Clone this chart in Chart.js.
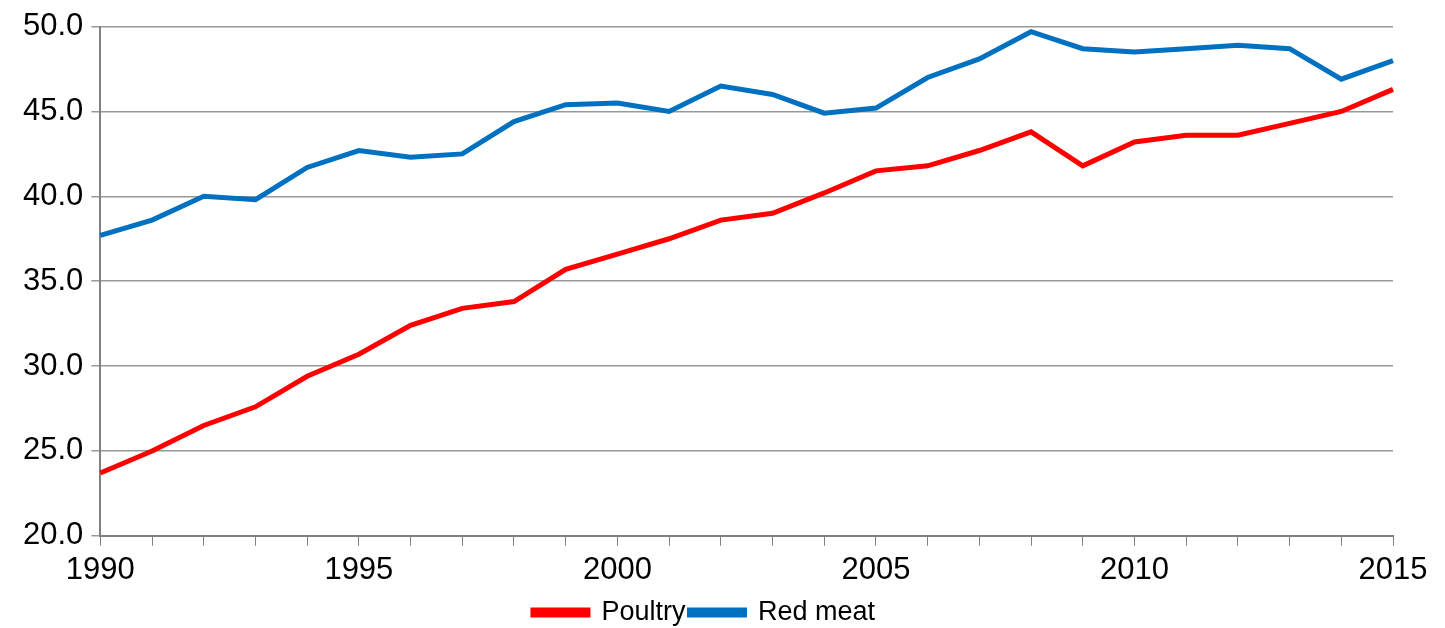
<!DOCTYPE html>
<html>
<head>
<meta charset="utf-8">
<script src="https://cdn.jsdelivr.net/npm/chart.js@4"></script>
<style>
  html, body { margin: 0; padding: 0; background: #fff; }
  #wrap { width: 1445px; height: 628px; }
</style>
</head>
<body>
<div id="wrap"><canvas id="chart" width="1445" height="628"></canvas></div>
<script>
const years = [];
for (let y = 1990; y <= 2015; y++) years.push(String(y));

const poultry = [23.7, 25.0, 26.5, 27.6, 29.4, 30.7, 32.4, 33.4, 33.8, 35.7, 36.6, 37.5, 38.6,
                 39.0, 40.2, 41.5, 41.8, 42.7, 43.8, 41.8, 43.2, 43.6, 43.6, 44.3, 45.0, 46.3];
const redMeat = [37.7, 38.6, 40.0, 39.8, 41.7, 42.7, 42.3, 42.5, 44.4, 45.4, 45.5, 45.0, 46.5,
                 46.0, 44.9, 45.2, 47.0, 48.1, 49.7, 48.7, 48.5, 48.7, 48.9, 48.7, 46.9, 48.0];

const font = { family: '"Liberation Sans", Arial, sans-serif', size: 31 };

new Chart(document.getElementById('chart').getContext('2d'), {
    type: 'line',
    data: {
        labels: years,
        datasets: [
            { label: 'Poultry', data: poultry, borderColor: '#ff0000', backgroundColor: '#ff0000',
              borderWidth: 5, pointRadius: 0, tension: 0 },
            { label: 'Red meat', data: redMeat, borderColor: '#0070c0', backgroundColor: '#0070c0',
              borderWidth: 5, pointRadius: 0, tension: 0 }
        ]
    },
    options: {
        responsive: false,
        animation: false,
        layout: { padding: { left: 15, right: 52, top: -12, bottom: -8 } },
        scales: {
            x: {
                offset: false,
                grid: { drawOnChartArea: false, color: '#808080', tickLength: 10 },
                border: { color: '#808080', width: 2 },
                ticks: {
                    color: '#000', font: font, maxRotation: 0, autoSkip: false, padding: 6,
                    callback: function (v, i) { return i % 5 === 0 ? years[i] : ''; }
                }
            },
            y: {
                min: 20, max: 50,
                grid: { color: '#999999', lineWidth: 1.5, tickLength: 9 },
                border: { color: '#808080', width: 2 },
                ticks: {
                    stepSize: 5, color: '#000', font: font, padding: 8,
                    callback: v => v.toFixed(1)
                }
            }
        },
        plugins: {
            legend: {
                position: 'bottom',
                labels: {
                    color: '#000', font: { family: font.family, size: 27 },
                    boxWidth: 55, boxHeight: 5, padding: 4
                }
            },
            tooltip: { enabled: false }
        }
    }
});
</script>
</body>
</html>
